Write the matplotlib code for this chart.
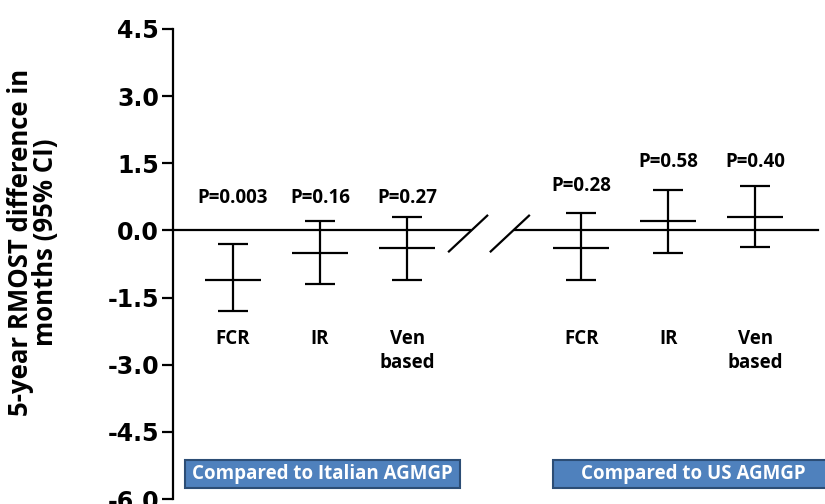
import matplotlib
matplotlib.use('Agg')
import matplotlib.pyplot as plt
from matplotlib.patches import Rectangle

# values (months)
groups = ['Italian', 'US']
categories = ['FCR', 'IR', 'Ven\nbased']
x_pos = [1, 2, 3, 5, 6, 7]
means = [-1.1, -0.5, -0.4, -0.4, 0.2, 0.31]
lower = [-1.8, -1.2, -1.1, -1.1, -0.5, -0.38]
upper = [-0.3, 0.2, 0.31, 0.4, 0.9, 1.0]
p_labels = ['P=0.003', 'P=0.16', 'P=0.27', 'P=0.28', 'P=0.58', 'P=0.40']
p_y = [0.72, 0.72, 0.72, 1.0, 1.52, 1.52]
box_labels = ['Compared to Italian AGMGP', 'Compared to US AGMGP']
y_ticks = [4.5, 3.0, 1.5, 0.0, -1.5, -3.0, -4.5, -6.0]

lbl_font = ['Open Sans', 'DejaVu Sans']

fig = plt.figure(figsize=(8.25, 5.04), dpi=100)
ax = fig.add_axes([0.2097, 0.0099, 0.7818, 0.9326])
ax.set_xlim(0.31, 7.72)
ax.set_ylim(-6.0, 4.5)

# zero line with axis break
brk_l, brk_r = 3.72, 4.24
ax.plot([0.31, brk_l], [0, 0], color='black', lw=1.6, clip_on=False)
ax.plot([brk_r, 7.72], [0, 0], color='black', lw=1.6, clip_on=False)
for cx in (3.70, 4.18):
    ax.plot([cx - 0.22, cx + 0.22], [-0.47, 0.33], color='black', lw=1.6)

ax.errorbar(x_pos, means,
            yerr=[[m - l for m, l in zip(means, lower)], [u - m for m, u in zip(means, upper)]],
            fmt='_', color='black', ecolor='black', elinewidth=1.6, capsize=10.5,
            capthick=1.6, markersize=40, markeredgewidth=1.6)

for x, txt, y in zip(x_pos, p_labels, p_y):
    ax.text(x, y, txt, ha='center', va='center', fontsize=13.5, fontweight='bold',
            family=lbl_font)

for x, cat in zip(x_pos, categories * 2):
    ax.text(x, -2.2, cat, ha='center', va='top', fontsize=13.5, fontweight='bold',
            family=lbl_font, linespacing=1.3)

for s in ['top', 'right', 'bottom']:
    ax.spines[s].set_visible(False)
ax.spines['left'].set_linewidth(1.6)
ax.set_xticks([])
ax.set_yticks(y_ticks)
ax.set_yticklabels(['%.1f' % v for v in y_ticks], fontsize=17, fontweight='bold',
                   family='DejaVu Sans')
ax.tick_params(axis='y', length=8, width=1.6, pad=2)

fig.text(0.04, 0.519, '5-year RMOST difference in\nmonths (95% CI)', rotation=90,
         ha='center', va='center', fontsize=18.5, fontweight='bold', family=lbl_font,
         linespacing=0.95)

# blue group boxes (figure fractions)
boxes = [(185, 460, 275), (553, 460, 280)]
for (bx, by, bw), lab in zip(boxes, box_labels):
    fig.patches.append(Rectangle((bx / 825, 1 - (by + 28) / 504), bw / 825, 28 / 504,
                                 transform=fig.transFigure, facecolor='#4f81bd',
                                 edgecolor='#2c4d75', lw=1.5))
    fig.text((bx + bw / 2) / 825, 1 - (by + 14) / 504, lab, ha='center', va='center',
             color='white', fontsize=13.5, fontweight='bold', family=lbl_font)

fig.savefig('out.png', dpi=100)
